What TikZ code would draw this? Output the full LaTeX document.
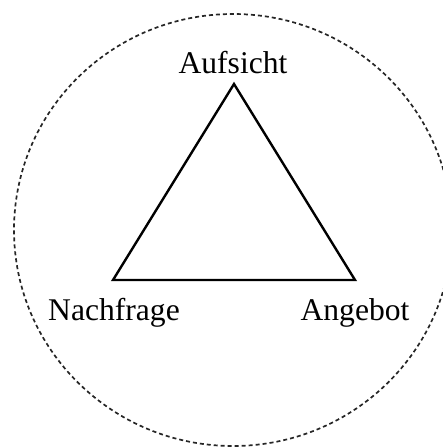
\documentclass[tikz,border=0pt]{standalone}
\usepackage{fontspec}
\setmainfont{Liberation Serif}
\begin{document}
\begin{tikzpicture}[x=1pt,y=-1pt,
  lbl/.style={font=\fontsize{31.6}{36}\selectfont, inner sep=0pt, anchor=base},
  ring/.style={draw=black!85, line width=1.7pt, dash pattern=on 4pt off 3pt},
  tri/.style={draw=black, line width=2.4pt, line join=miter}]
\useasboundingbox (0,0) rectangle (442,447);
\draw[ring] (233,230) ellipse [x radius=219, y radius=216];
\coordinate (top) at (234,84);
\coordinate (bl) at (113,280);
\coordinate (br) at (355,280);
\draw[tri] (top) -- (br) -- (bl) -- cycle;
\node[lbl] (auf) at (233,73) {Aufsicht};
\node[lbl] (nach) at (114,320) {Nachfrage};
\node[lbl] (ang) at (355,320) {Angebot};
\end{tikzpicture}
\end{document}
